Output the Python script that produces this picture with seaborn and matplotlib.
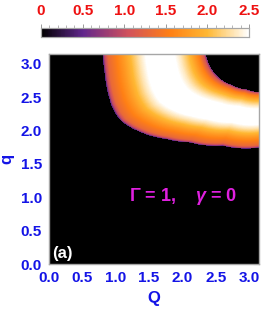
import numpy as np
import pandas as pd
import matplotlib
matplotlib.use("Agg")
import matplotlib.pyplot as plt
from matplotlib.colors import LinearSegmentedColormap
from matplotlib.ticker import FixedLocator
import seaborn as sns

sns.set_style("white")
plt.rcParams['font.family'] = ['Liberation Sans', 'DejaVu Sans']
plt.rcParams['mathtext.fontset'] = 'custom'
plt.rcParams['mathtext.it'] = 'Liberation Sans:italic:bold'

# band edges, (Q, q) pairs
outer_Q = [0.80, 0.825, 0.86, 0.925, 1.0, 1.075, 1.225, 1.45, 1.75, 2.1, 2.6, 3.1416]
outer_q = [3.1416, 2.89, 2.64, 2.39, 2.24, 2.14, 2.04, 1.94, 1.87, 1.82, 1.77, 1.74]
inner_Q = [2.35, 2.425, 2.55, 2.725, 2.95, 3.1416]
inner_q = [3.1416, 2.94, 2.79, 2.69, 2.62, 2.58]

# value across the band (0 = outer edge, 1 = inner edge)
prof_t = [0.0, 0.015, 0.05, 0.12, 0.2, 0.27, 0.35, 0.55, 0.75, 0.85, 0.93, 0.98, 1.0]
prof_v = [0.4, 0.9, 1.3, 1.5, 1.75, 2.0, 2.3, 2.9, 2.35, 1.95, 1.55, 1.1, 0.6]

cbar_ticks = [0, 0.5, 1.0, 1.5, 2.0, 2.5]
cbar_labels = ["0", "0.5", "1.0", "1.5", "2.0", "2.5"]
axis_ticks = [0.0, 0.5, 1.0, 1.5, 2.0, 2.5, 3.0]

N = 210
Qs = np.linspace(0, np.pi, N)
qs = np.linspace(0, np.pi, N)
QQ, qq = np.meshgrid(Qs, qs)


def polar(Q, q):
    dx = np.pi - np.asarray(Q)
    dy = np.pi - np.asarray(q)
    return np.arctan2(dy, dx), np.hypot(dx, dy)


th_o, r_o = polar(outer_Q, outer_q)
th_i, r_i = polar(inner_Q, inner_q)
th, r = polar(QQ, qq)
ro = np.interp(th, th_o, r_o)
ri = np.interp(th, th_i, r_i)
t = (ro - r) / (ro - ri)
Z = np.where((t >= 0) & (t <= 1), np.interp(t, prof_t, prof_v), 0.0)

df = pd.DataFrame(Z, index=qs, columns=Qs)

cmap = LinearSegmentedColormap.from_list("sunset", [
    (0.0, (0.0, 0.0, 0.0)),
    (0.2, (0.38, 0.15, 0.55)),
    (0.42, (0.82, 0.32, 0.36)),
    (0.62, (1.0, 0.5, 0.08)),
    (0.8, (1.0, 0.72, 0.2)),
    (1.0, (1.0, 1.0, 1.0)),
])

fig = plt.figure(figsize=(2.65, 3.13), dpi=100)
ax = fig.add_axes([0.185, 0.1565, 0.7905, 0.6695])
cax = fig.add_axes([0.155, 0.882, 0.785, 0.029])

sns.heatmap(df, ax=ax, cmap=cmap, vmin=0, vmax=2.5, cbar_ax=cax,
            cbar_kws={"orientation": "horizontal"},
            xticklabels=False, yticklabels=False, rasterized=True)
ax.invert_yaxis()

blue = "#1414e6"
scale = N / np.pi
ax.set_xticks([v * scale for v in axis_ticks])
ax.set_yticks([v * scale for v in axis_ticks])
ax.set_xticklabels([f"{v:.1f}" for v in axis_ticks])
ax.set_yticklabels([f"{v:.1f}" for v in axis_ticks], rotation=0)
ax.xaxis.set_minor_locator(FixedLocator([v * scale for v in np.arange(0, 3.15, 0.1)]))
ax.yaxis.set_minor_locator(FixedLocator([v * scale for v in np.arange(0, 3.15, 0.1)]))
ax.tick_params(which="both", direction="in", color="0.6", top=True, right=True,
               labelsize=11, labelcolor=blue, pad=5)
ax.tick_params(which="major", length=4, width=0.8)
ax.tick_params(which="minor", length=2, width=0.6)
for lbl in ax.get_xticklabels() + ax.get_yticklabels():
    lbl.set_fontweight("bold")
for s in ax.spines.values():
    s.set_visible(True)
    s.set_color("0.65")
    s.set_linewidth(1.0)

ax.set_xlabel("Q", color=blue, fontsize=12, fontweight="bold", labelpad=4)
ax.set_ylabel("q", color=blue, fontsize=12, fontweight="bold", labelpad=5)

ax.text(2.01 * scale, 1.01 * scale, r"Γ = 1,    $\gamma$ = 0", color="#e020e0",
        fontsize=13, fontweight="bold", ha="center", va="center")
ax.text(0.2 * scale, 0.16 * scale, "(a)", color="white", fontsize=12,
        fontweight="bold", ha="center", va="center")

cax.xaxis.set_ticks_position("top")
cax.set_xticks(cbar_ticks)
cax.set_xticklabels(cbar_labels)
cax.xaxis.set_minor_locator(FixedLocator(np.arange(0, 2.51, 0.1)))
cax.tick_params(which="both", direction="out", color="0.6", labelsize=11,
                labelcolor="#ee1111", pad=4)
cax.tick_params(which="major", length=3, width=0.7)
cax.tick_params(which="minor", length=2, width=0.5)
for lbl in cax.get_xticklabels():
    lbl.set_fontweight("bold")
for s in cax.spines.values():
    s.set_visible(True)
    s.set_edgecolor("0.65")
    s.set_linewidth(0.8)

fig.savefig("out.png", dpi=100)
